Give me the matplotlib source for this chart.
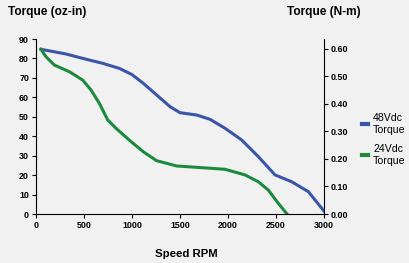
import matplotlib
matplotlib.use("Agg")
import matplotlib.pyplot as plt
from matplotlib.lines import Line2D
from matplotlib.ticker import FormatStrFormatter

# torque/speed curves
rpm_48 = [52, 312, 521, 694, 868, 1000, 1118, 1257, 1396, 1500, 1674, 1813,
          1969, 2142, 2316, 2490, 2663, 2837, 3000]
torque_48 = [84.7, 82.3, 79.6, 77.5, 74.9, 71.7, 67.2, 61.2, 55.2, 52.1, 50.9,
             48.7, 44.1, 38.1, 29.5, 20.1, 16.6, 11.5, 1.5]

rpm_24 = [52, 104, 191, 347, 486, 573, 660, 747, 833, 979, 1118, 1257, 1465,
          1674, 1969, 2177, 2316, 2420, 2524, 2615]
torque_24 = [84.7, 80.9, 76.6, 73.2, 68.9, 63.8, 56.9, 48.4, 44.1, 37.7, 32.0,
             27.4, 24.7, 24.0, 23.0, 20.1, 16.6, 12.3, 5.5, 0.0]

labels = ["48Vdc\nTorque", "24Vdc\nTorque"]
OZIN_PER_NM = 141.6

bg = "#f0f1f0"
blue = "#3b55a8"
green = "#1b8a3f"

plt.rcParams["font.family"] = "Liberation Sans"

fig = plt.figure(figsize=(4.1, 2.63), dpi=100, facecolor=bg)
ax = fig.add_axes([0.0878, 0.1863, 0.7024, 0.6654], facecolor=bg)

ax.plot(rpm_48, torque_48, color=blue, lw=2.2, solid_joinstyle="round")
ax.plot(rpm_24, torque_24, color=green, lw=2.2, solid_joinstyle="round")

ax.set_xlim(0, 3000)
ax.set_ylim(0, 90)
ax.set_xticks(range(0, 3001, 500))
ax.set_yticks(range(0, 91, 10))
for s in ["top", "right"]:
    ax.spines[s].set_visible(False)
ax.tick_params(labelsize=6.4, length=3, width=0.8, pad=2)
for t in ax.get_xticklabels() + ax.get_yticklabels():
    t.set_fontweight("bold")

ax2 = ax.twinx()
ax2.set_ylim(0, 90 / OZIN_PER_NM)
ax2.set_yticks([0, 0.1, 0.2, 0.3, 0.4, 0.5, 0.6])
ax2.yaxis.set_major_formatter(FormatStrFormatter("%.2f"))
for s in ["top", "left", "bottom"]:
    ax2.spines[s].set_visible(False)
ax2.tick_params(labelsize=6.4, length=3, width=0.8, pad=2)
for t in ax2.get_yticklabels():
    t.set_fontweight("bold")

fig.text(0.02, 0.953, "Torque (oz-in)", fontsize=8.6, fontweight="bold", va="center")
fig.text(0.70, 0.953, "Torque (N-m)", fontsize=8.6, fontweight="bold", va="center")
fig.text(0.455, 0.036, "Speed RPM", fontsize=8.2, fontweight="bold", ha="center", va="center")

handles = [Line2D([], [], color=blue, lw=3), Line2D([], [], color=green, lw=3)]
fig.legend(handles, labels, loc="center left", bbox_to_anchor=(0.86, 0.47),
           frameon=False, fontsize=7.6, handlelength=0.6, handletextpad=0.45,
           labelspacing=0.9)

fig.savefig("out.png", dpi=100, facecolor=bg)
